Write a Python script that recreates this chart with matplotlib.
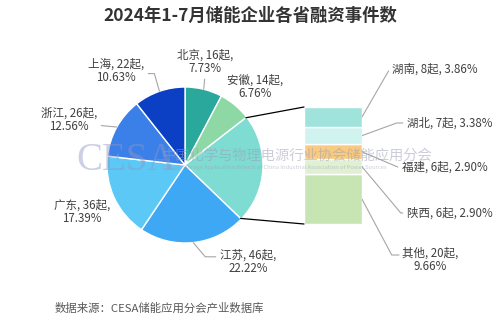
import numpy as np
import matplotlib
matplotlib.use("Agg")
import matplotlib.pyplot as plt
from matplotlib.patches import ConnectionPatch

plt.rcParams['font.family'] = ['Noto Sans CJK SC', 'DejaVu Sans']

# pie slices, clockwise from 12 o'clock
pie_names = ["北京", "安徽", "其他", "江苏", "广东", "浙江", "上海"]
pie_counts = [16, 14, 47, 46, 36, 26, 22]
pie_pcts = ["7.73%", "6.76%", "", "22.22%", "17.39%", "12.56%", "10.63%"]
pie_colors = ["#2aa89c", "#8ed8a6", "#7fdcd2", "#3ea8f4", "#5cc8f6", "#3a80e8", "#0b3fc4"]

# breakdown of the "其他" slice, top to bottom
bar_names = ["湖南", "湖北", "福建", "陕西", "其他"]
bar_counts = [8, 7, 6, 6, 20]
bar_pcts = ["3.86%", "3.38%", "2.90%", "2.90%", "9.66%"]
bar_colors = ["#9fe3dc", "#d0f3ef", "#f8cb80", "#e0f0d2", "#c6e5b3"]

H = 325
txt_color = "#404040"
line_color = "#a6a6a6"
fs = 8.3

fig = plt.figure(figsize=(5, 3.25), dpi=100)
ax = fig.add_axes([0, 0, 1, 1])

cx, cy, r = 185, H - 165, 78
wedges, _ = ax.pie(pie_counts, colors=pie_colors, startangle=90, counterclock=False,
                   center=(cx, cy), radius=r,
                   wedgeprops=dict(edgecolor="white", linewidth=1))
ax.set_xlim(0, 500)
ax.set_ylim(0, H)
ax.set_aspect("auto")
ax.axis("off")

# slice labels: (text x, text y, ha, relpos, connection)
pie_lbl = {
    "北京": (205, 62, "center", (0.5, 0.0), "arc3"),
    "安徽": (255, 87, "center", None, None),
    "江苏": (248, 262, "center", (0.0, 0.7), "angle,angleA=0,angleB=-50,rad=0"),
    "广东": (82, 212, "center", None, None),
    "浙江": (69, 120, "center", (1.0, 0.3), "arc3"),
    "上海": (116, 71, "center", (0.95, 0.4), "angle,angleA=0,angleB=106,rad=0"),
}
total = sum(pie_counts)
start = 90.0
mids = []
for n, c in zip(pie_names, pie_counts):
    sweep = 360.0 * c / total
    mids.append(start - sweep / 2)
    start -= sweep

for name, cnt, pct, mid in zip(pie_names, pie_counts, pie_pcts, mids):
    if name not in pie_lbl:
        continue
    tx, ty, ha, rel, cs = pie_lbl[name]
    a = np.radians(mid)
    px, py = cx + r * np.cos(a), cy + r * np.sin(a)
    label = f"{name}, {cnt}起,\n{pct}"
    if rel is None:
        ax.text(tx, H - ty, label, ha=ha, va="center", fontsize=fs,
                color=txt_color, linespacing=1.0)
    else:
        ax.annotate(label, xy=(px, py), xytext=(tx, H - ty), ha=ha, va="center",
                    fontsize=fs, color=txt_color, linespacing=1.0,
                    arrowprops=dict(arrowstyle="-", color=line_color, lw=0.8,
                                    relpos=rel, connectionstyle=cs,
                                    shrinkA=1, shrinkB=0))

# stacked bar for the "其他" slice
ax2 = fig.add_axes([304 / 500, (H - 224) / H, 58 / 500, 117 / H])
btm = 0
bar_total = sum(bar_counts)
mid_y = {}
for name, cnt, col in zip(bar_names[::-1], bar_counts[::-1], bar_colors[::-1]):
    ax2.bar(0, cnt, bottom=btm, width=1, color=col, edgecolor="white", linewidth=1)
    mid_y[name] = btm + cnt / 2
    btm += cnt
ax2.set_xlim(-0.5, 0.5)
ax2.set_ylim(0, bar_total)
ax2.axis("off")

# lines joining the slice edges to the bar
t_top = 90 - 360.0 * sum(pie_counts[:2]) / total
t_bot = t_top - 360.0 * pie_counts[2] / total
for t, yb in [(t_top, bar_total), (t_bot, 0)]:
    a = np.radians(t)
    con = ConnectionPatch(xyA=(cx + (r - 1) * np.cos(a), cy + (r - 1) * np.sin(a)),
                          coordsA=ax.transData, xyB=(-0.5, yb), coordsB=ax2.transData,
                          color="black", lw=0.9)
    fig.add_artist(con)

bar_lbl = {
    "湖南": (392, 69, 60, False),
    "湖北": (407, 123, 20, False),
    "福建": (402, 167, -23, False),
    "陕西": (407, 213, -50, False),
    "其他": (401, 260, -62, True),
}
for name, cnt, pct in zip(bar_names, bar_counts, bar_pcts):
    tx, ty, angb, two = bar_lbl[name]
    if two:
        label = f"{name}, {cnt}起,\n{pct}"
        ax.text(tx + 29, H - ty, label, ha="center", va="center", fontsize=fs,
                color=txt_color, linespacing=1.0)
        ax.annotate("", xy=(0.5, mid_y[name]), xycoords=ax2.transData,
                    xytext=(tx - 2, H - ty + 5), textcoords="data",
                    arrowprops=dict(arrowstyle="-", color=line_color, lw=0.8,
                                    connectionstyle=f"angle,angleA=0,angleB={angb},rad=0",
                                    shrinkA=0, shrinkB=0),
                    annotation_clip=False)
    else:
        label = f"{name}, {cnt}起, {pct}"
        ax.annotate(label, xy=(0.5, mid_y[name]), xycoords=ax2.transData,
                    xytext=(tx, H - ty), textcoords="data", ha="left", va="center",
                    fontsize=fs, color=txt_color, annotation_clip=False,
                    arrowprops=dict(arrowstyle="-", color=line_color, lw=0.8,
                                    relpos=(0, 0.5),
                                    connectionstyle=f"angle,angleA=0,angleB={angb},rad=0",
                                    shrinkA=1, shrinkB=0))

# watermark
fig.text(76 / 500, 1 - 161 / H, "CESA", fontsize=28, family="Liberation Serif",
         color="#9196c6", alpha=0.45, va="center", ha="left", zorder=10)
fig.text(162 / 500, 1 - 156 / H, "中国化学与物理电源行业协会储能应用分会", fontsize=10.3,
         color="#9a9cb8", alpha=0.5, va="center", ha="left", zorder=10)
fig.text(162 / 500, 1 - 168 / H,
         "Energy Storage Application Branch of China Industrial Association of Power Sources",
         fontsize=4.2, color="#9a9cb8", alpha=0.5, va="center", ha="left", zorder=10)

fig.text(0.5, 1 - 16 / H, "2024年1-7月储能企业各省融资事件数", ha="center", va="center",
         fontsize=12.5, fontweight="bold", color="#333333")
fig.text(55 / 500, 1 - 308 / H, "数据来源：CESA储能应用分会产业数据库", ha="left", va="center",
         fontsize=8.2, color="#595959")

fig.savefig("out.png", dpi=100, facecolor="white")
